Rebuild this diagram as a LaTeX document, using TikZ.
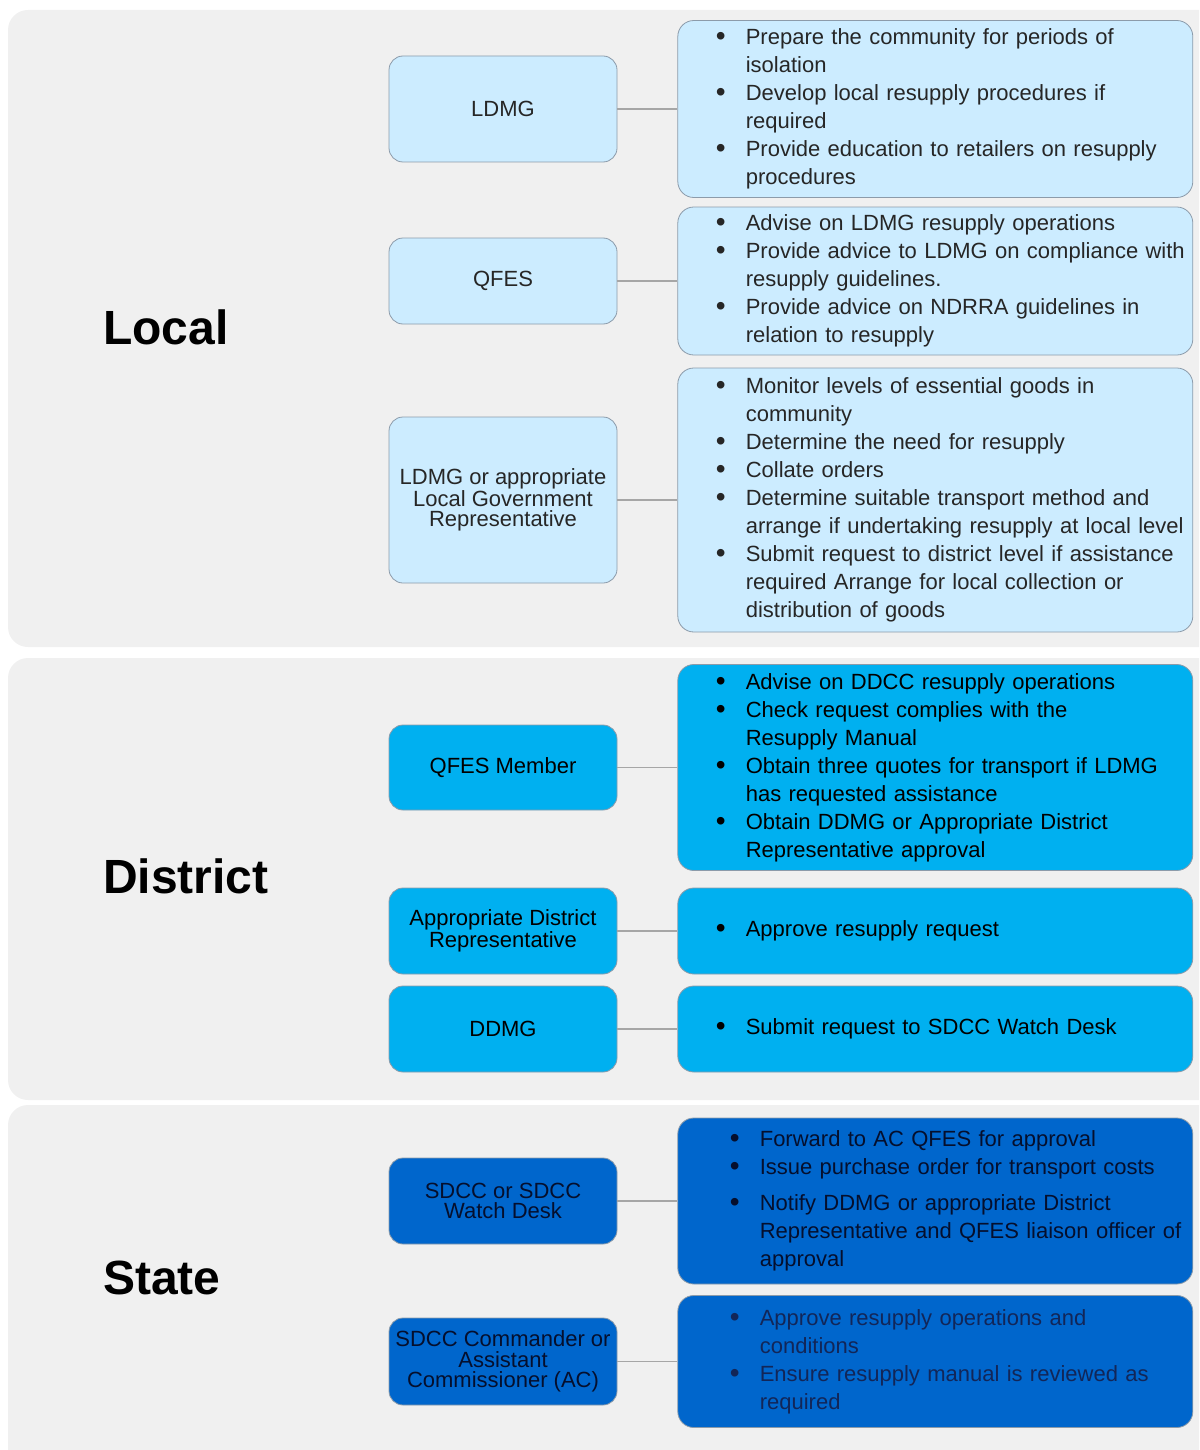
\documentclass[tikz,border=0pt]{standalone}
\usepackage{fontspec}
\setmainfont{Liberation Sans}
\usetikzlibrary{positioning}

\definecolor{panelgray}{RGB}{240,240,240}
\definecolor{localblue}{RGB}{204,236,255}
\definecolor{districtblue}{RGB}{0,176,240}
\definecolor{stateblue}{RGB}{0,102,204}
\definecolor{boxline}{RGB}{140,155,170}
\definecolor{linkgray}{RGB}{166,166,166}
\definecolor{navytext}{RGB}{5,15,45}
\definecolor{fadednavy}{RGB}{18,38,88}

% bullet list set as a tabular, shifted in from the left edge of the box
\newcommand{\dutylist}[2]{\noindent\hspace*{#1}\begin{tabular}{@{}p{30pt}@{}l@{}}#2\end{tabular}}
\newcommand{\dutydot}{\raisebox{-1pt}{\fontsize{28}{28}\selectfont\textbullet}}

\begin{document}
\begin{tikzpicture}[
        x=1pt, y=-1pt,
        role/.style={rectangle, rounded corners=14pt, draw=boxline, line width=0.8pt, minimum width=228pt, align=center, inner sep=2pt, font=\fontsize{22}{20.5}\selectfont},
        duty/.style={rectangle, rounded corners=16pt, draw=boxline, line width=0.8pt, text width=515pt, inner xsep=0pt, inner ysep=4pt, font=\fontsize{22}{28}\selectfont},
        level/.style={anchor=base west, inner sep=0pt, font=\fontsize{48}{48}\selectfont\bfseries},
        link/.style={draw=linkgray, line width=1.2pt},
        localfill/.style={fill=localblue, text=black!85},
        districtfill/.style={fill=districtblue, text=black},
        statefill/.style={fill=stateblue, text=navytext}
    ]
\useasboundingbox (0,0) rectangle (1199,1450);
\clip (0,0) rectangle (1199,1450);

% Bands
        \fill[panelgray, rounded corners=20pt] (8,10) rectangle (1230,647);
        \fill[panelgray, rounded corners=20pt] (8,658) rectangle (1230,1100);
        \fill[panelgray, rounded corners=20pt] (8,1105) rectangle (1230,1480);

        \node[level] (local) at (103,344) {Local};
        \node[level] (district) at (103,893) {District};
        \node[level] (state) at (103,1294) {State};

% Local
        \node[role, localfill, minimum height=106pt] (ldmg) at (503,109) {LDMG};
        \node[role, localfill, minimum height=86pt] (qfes) at (503,281) {QFES};
        \node[role, localfill, minimum height=166pt] (lgrep) at (503,500) {LDMG or appropriate\\Local Government\\Representative};

        \node[duty, localfill, right=60pt of ldmg, minimum height=177pt] (ldmgduty) {\dutylist{38pt}{
            \dutydot & Prepare the community  for periods of\\
             & isolation\\
            \dutydot & Develop local resupply procedures if\\
             & required\\
            \dutydot & Provide education to retailers on resupply\\
             & procedures}};
        \node[duty, localfill, right=60pt of qfes, minimum height=148pt] (qfesduty) {\dutylist{38pt}{
            \dutydot & Advise on LDMG resupply operations\\
            \dutydot & Provide advice to LDMG on compliance with\\
             & resupply guidelines.\\
            \dutydot & Provide advice on NDRRA guidelines in\\
             & relation to resupply}};
        \node[duty, localfill, right=60pt of lgrep, minimum height=264pt] (lgrepduty) {\dutylist{38pt}{
            \dutydot & Monitor levels of essential goods in\\
             & community\\
            \dutydot & Determine the need for resupply\\
            \dutydot & Collate orders\\
            \dutydot & Determine suitable transport method and\\
             & arrange if undertaking resupply at local level\\
            \dutydot & Submit request to district level if assistance\\
             & required Arrange for local collection or\\
             & distribution of goods}};

% District
        \node[role, districtfill, minimum height=85pt] (qfesm) at (503,767.5) {QFES Member};
        \node[role, districtfill, minimum height=86pt] (adrep) at (503,931) {Appropriate District\\Representative};
        \node[role, districtfill, minimum height=86pt] (ddmg) at (503,1029) {DDMG};

        \node[duty, districtfill, right=60pt of qfesm, minimum height=206pt] (qfesmduty) {\dutylist{38pt}{
            \dutydot & Advise on DDCC resupply operations\\
            \dutydot & Check request complies with the\\
             & Resupply Manual\\
            \dutydot & Obtain three quotes for transport if LDMG\\
             & has requested assistance\\
            \dutydot & Obtain DDMG or Appropriate District\\
             & Representative approval}};
        \node[duty, districtfill, right=60pt of adrep, minimum height=86pt] (adrepduty) {\dutylist{38pt}{
            \dutydot & Approve resupply request}};
        \node[duty, districtfill, right=60pt of ddmg, minimum height=86pt] (ddmgduty) {\dutylist{38pt}{
            \dutydot & Submit request to SDCC Watch Desk}};

% State
        \node[role, statefill, minimum height=86pt] (sdcc) at (503,1201) {SDCC or SDCC\\Watch Desk};
        \node[role, statefill, minimum height=87pt] (sdccac) at (503,1361.5) {SDCC Commander or\\Assistant\\Commissioner (AC)};

        \node[duty, statefill, right=60pt of sdcc, minimum height=166pt] (sdccduty) {\dutylist{52pt}{
            \dutydot & Forward to AC QFES for approval\\
            \dutydot & Issue purchase order for transport costs\\[8pt]
            \dutydot & Notify DDMG or appropriate District\\
             & Representative and QFES liaison officer of\\
             & approval}};
        \node[duty, statefill, text=fadednavy, right=60pt of sdccac, minimum height=132pt] (sdccacduty) {\dutylist{52pt}{
            \dutydot & Approve resupply operations and\\
             & conditions\\
            \dutydot & Ensure resupply manual is reviewed as\\
             & required}};

% Links
        \draw[link] (ldmg) -- (ldmgduty);
        \draw[link] (qfes) -- (qfesduty);
        \draw[link] (lgrep) -- (lgrepduty);
        \draw[link] (qfesm) -- (qfesmduty);
        \draw[link] (adrep) -- (adrepduty);
        \draw[link] (ddmg) -- (ddmgduty);
        \draw[link] (sdcc) -- (sdccduty);
        \draw[link] (sdccac) -- (sdccacduty);
    \end{tikzpicture}
\end{document}
